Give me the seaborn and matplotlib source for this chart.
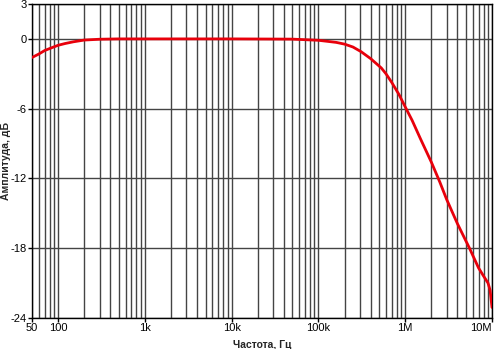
import numpy as np
import pandas as pd
import matplotlib
matplotlib.use("Agg")
import matplotlib.pyplot as plt
import seaborn as sns
from matplotlib.ticker import FixedLocator, NullFormatter, LogLocator

sns.set_theme(style="white")
plt.rcParams['font.family'] = ['Liberation Sans Narrow', 'Liberation Sans', 'DejaVu Sans']

# frequency response
freq_hz = [50, 60, 70, 85, 100, 120, 150, 200, 300, 500, 1e3, 1e4, 5e4, 1e5,
           1.3e5, 1.6e5, 2e5, 2.5e5, 3.1e5, 4e5, 5.3e5, 6e5, 7e5, 8.5e5, 1e6,
           1.2e6, 1.5e6, 2e6, 2.5e6, 3e6, 4e6, 5.5e6, 7e6, 8e6, 9e6, 9.5e6, 1e7]
gain_db = [-1.6, -1.3, -1.0, -0.75, -0.55, -0.4, -0.25, -0.1, -0.03, 0.0, 0.0,
           0.0, -0.02, -0.12, -0.22, -0.3, -0.45, -0.7, -1.1, -1.7, -2.5, -3.0,
           -3.75, -4.8, -5.85, -7.0, -8.6, -10.6, -12.3, -13.8, -15.9, -18.0,
           -19.7, -20.4, -21.0, -21.6, -23.1]

x_ticks = [50, 100, 1e3, 1e4, 1e5, 1e6, 1e7]
x_labels = ['50', '100', '1k', '10k', '100k', '1M', '10M']
y_ticks = [3, 0, -6, -12, -18, -24]

df = pd.DataFrame({'f': freq_hz, 'db': gain_db})

fig = plt.figure(figsize=(5.0, 3.49), dpi=100)
ax = fig.add_axes([0.064, 0.089, 0.92, 0.8995])

ax.set_xscale('log')
ax.set_xlim(50, 1e7)
ax.set_ylim(-24, 3)

# grid: every log minor step, and the dB lines
ax.xaxis.set_major_locator(FixedLocator(x_ticks))
ax.xaxis.set_minor_locator(LogLocator(base=10, subs=np.arange(2, 10), numticks=20))
ax.xaxis.set_minor_formatter(NullFormatter())
ax.set_xticklabels(x_labels)
ax.set_yticks(y_ticks)
ax.set_yticklabels([str(v) for v in y_ticks])
ax.grid(True, which='both', axis='x', color='#444444', linewidth=1.0)
ax.grid(True, which='major', axis='y', color='#444444', linewidth=1.0)

sns.lineplot(data=df, x='f', y='db', color='#e8000b', linewidth=2.0, ax=ax, zorder=5)

for s in ax.spines.values():
    s.set_color('black')
    s.set_linewidth(1.0)

ax.tick_params(axis='both', which='major', direction='out', length=3, width=1,
               labelsize=8, pad=1, colors='black', left=True, bottom=True)
ax.tick_params(axis='x', which='minor', length=0)
# keep the last label inside the picture
ax.get_xticklabels()[-1].set_horizontalalignment('right')
ax.get_xticklabels()[-1].set_x(1e7)

ax.set_xlabel('Частота, Гц', fontsize=7.5, fontweight='bold')
ax.set_ylabel('Амплитуда, дБ', fontsize=7.5, fontweight='bold')
ax.xaxis.set_label_coords(0.5, -0.07)
ax.yaxis.set_label_coords(-0.046, 0.5)

fig.savefig('out.png', dpi=100)
